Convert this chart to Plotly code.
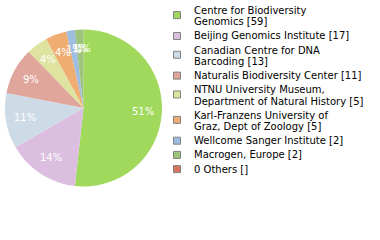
import math
import plotly.graph_objects as go

# ---- data ----
labels = [
    "Centre for Biodiversity\nGenomics",
    "Beijing Genomics Institute",
    "Canadian Centre for DNA\nBarcoding",
    "Naturalis Biodiversity Center",
    "NTNU University Museum,\nDepartment of Natural History",
    "Karl-Franzens University of\nGraz, Dept of Zoology",
    "Wellcome Sanger Institute",
    "Macrogen, Europe",
    "0 Others",
]
values = [59, 17, 13, 11, 5, 5, 2, 2, 0]
colors = ["#a0d95b", "#dcbee0", "#cddbe6", "#e0a59b", "#dee3a0",
          "#f0ad72", "#9ebde0", "#9dc47a", "#d9745b"]

# ---- layout geometry (pixels) ----
W, H = 380, 240
cx, cy, R = 83.5, 108.0, 78.5
FONT = "DejaVu Sans, sans-serif"


def px(x):
    return x / W


def py(y):
    return 1 - y / H


fig = go.Figure()
fig.add_trace(go.Pie(
    values=values,
    labels=[l.replace("\n", " ") for l in labels],
    marker=dict(colors=colors, line=dict(width=0)),
    sort=False, direction="clockwise", rotation=0,
    textinfo="none", hoverinfo="skip", showlegend=False,
    domain=dict(x=[px(cx - R), px(cx + R)], y=[py(cy + R), py(cy - R)]),
))

annotations = []
shapes = []
total = sum(values)
cum = 0
for v in values:
    mid = (cum + v / 2) / total * 2 * math.pi
    cum += v
    tx = cx + 0.76 * R * math.sin(mid)
    ty = cy - 0.76 * R * math.cos(mid)
    annotations.append(dict(
        x=px(tx), y=py(ty), xref="paper", yref="paper",
        text=f"{int(100 * v / total)}%", showarrow=False,
        xanchor="center", yanchor="middle",
        font=dict(family=FONT, size=10, color="white")))

# ---- legend ----
y_line = 10.5
p_intra, q_inter = 11.25, 14.2
sq = 7
for i, (lab, v, c) in enumerate(zip(labels, values, colors)):
    lines = lab.split("\n")
    lines[-1] = f"{lines[-1]} [{v if v else ''}]"
    ys = []
    for j, t in enumerate(lines):
        if j > 0:
            y_line += p_intra
        ys.append(y_line)
        annotations.append(dict(
            x=px(192), y=py(y_line), xref="paper", yref="paper",
            text=t, showarrow=False, xanchor="left", yanchor="middle",
            font=dict(family=FONT, size=10, color="black")))
    yc = sum(ys) / len(ys) - (1 if len(ys) > 1 else 0)
    shapes.append(dict(
        type="rect", xref="paper", yref="paper",
        x0=px(173.5), x1=px(173.5 + sq), y0=py(yc + sq / 2), y1=py(yc - sq / 2),
        fillcolor=c, line=dict(color="#808080", width=1)))
    y_line += q_inter

fig.update_layout(
    width=W, height=H,
    margin=dict(l=0, r=0, t=0, b=0),
    paper_bgcolor="white", plot_bgcolor="white",
    annotations=annotations, shapes=shapes,
    font=dict(family=FONT),
)

fig.write_html("out.html",
               config={"displayModeBar": False, "staticPlot": True},
               post_script="document.body.style.margin='0';document.body.style.padding='0';")
